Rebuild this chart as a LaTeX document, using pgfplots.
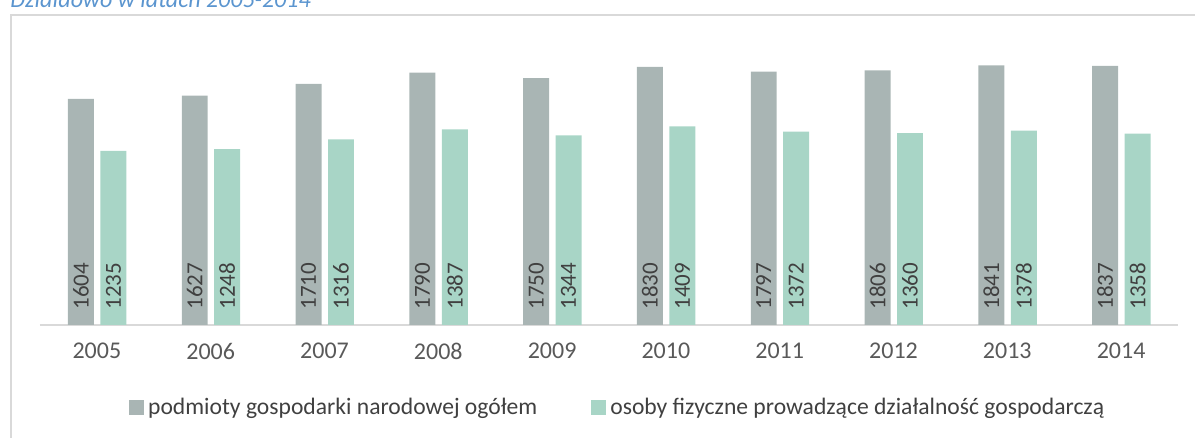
\documentclass[border=0pt]{standalone}
\usepackage{pgfplots}
\pgfplotsset{compat=1.18}
\usepackage{graphicx}
\usepackage{fontspec}
\setmainfont{Carlito}
\definecolor{gridc}{HTML}{D9D9D9}
\definecolor{barg}{HTML}{A9B5B4}
\definecolor{bart}{HTML}{A8D5C6}
\definecolor{titc}{HTML}{5B95CF}
\definecolor{txt}{HTML}{404040}
\definecolor{tick}{HTML}{595959}
\begin{document}
\begin{tikzpicture}
\useasboundingbox (0,0) rectangle (597.5pt,219pt);
\clip (0,0) rectangle (597.5pt,219pt);
\draw[gridc, line width=1pt] (5.5pt,0) -- (5.5pt,211.5pt) -- (597.5pt,211.5pt);
\node[anchor=base west, inner sep=0pt, font=\itshape\fontsize{12}{14}\selectfont, text=titc] at (5pt,215pt) {Działdowo w latach 2005-2014};
\begin{axis}[
  at={(20pt,56.5pt)}, anchor=south west,
  scale only axis, width=569pt, height=141pt,
  xmin=-0.5, xmax=9.5, ymin=0, ymax=2000,
  axis x line*=bottom, axis y line=none,
  x axis line style={gridc, line width=1pt, -},
  xtick={0,...,9},
  xticklabels={2005,2006,2007,2008,2009,2010,2011,2012,2013,2014},
  xtick style={draw=none},
  xticklabel style={font=\fontsize{12}{14}\selectfont, text=tick, inner sep=0pt, anchor=north, yshift=-9pt},
  ytick={0,500,1000,1500,2000}, yticklabels={},
  ymajorgrids, grid style={gridc, line width=1pt},
  /pgf/number format/.cd, 1000 sep={}, assume math mode=true, /pgfplots/.cd,
  legend columns=2,
  legend cell align=left,
  legend style={at={(0.5085,-0.294)}, anchor=center, draw=none, fill=none,
    font=\fontsize{11.8}{14}\selectfont, text=txt,
    /tikz/every even column/.append style={column sep=25pt}},
  nodes near coords={\rotatebox{90}{\pgfmathprintnumber{\pgfplotspointmeta}}},
  visualization depends on={y \as \rawy},
  every node near coord/.append style={shift={(axis direction cs:0,-\rawy)}, yshift=7.5pt, anchor=south, inner sep=0pt, font=\fontsize{11.5}{13}\selectfont, text=txt},
]
\addplot[ybar, bar width=0.228, bar shift=-0.14, fill=barg, draw=none,
  every node near coord/.append style={shift={(axis direction cs:-0.14,0)}},
  legend image code/.code={\fill[barg] (0pt,-3.75pt) rectangle (7.5pt,3.75pt);}]
  coordinates {(0,1604) (1,1627) (2,1710) (3,1790) (4,1750) (5,1830) (6,1797) (7,1806) (8,1841) (9,1837)};
\addlegendentry{podmioty gospodarki narodowej ogółem}
\addplot[ybar, bar width=0.228, bar shift=0.145, fill=bart, draw=none,
  every node near coord/.append style={shift={(axis direction cs:0.145,0)}},
  legend image code/.code={\fill[bart] (0pt,-3.75pt) rectangle (7.5pt,3.75pt);}]
  coordinates {(0,1235) (1,1248) (2,1316) (3,1387) (4,1344) (5,1409) (6,1372) (7,1360) (8,1378) (9,1358)};
\addlegendentry{osoby fizyczne prowadzące działalność gospodarczą}
\end{axis}
\end{tikzpicture}
\end{document}
